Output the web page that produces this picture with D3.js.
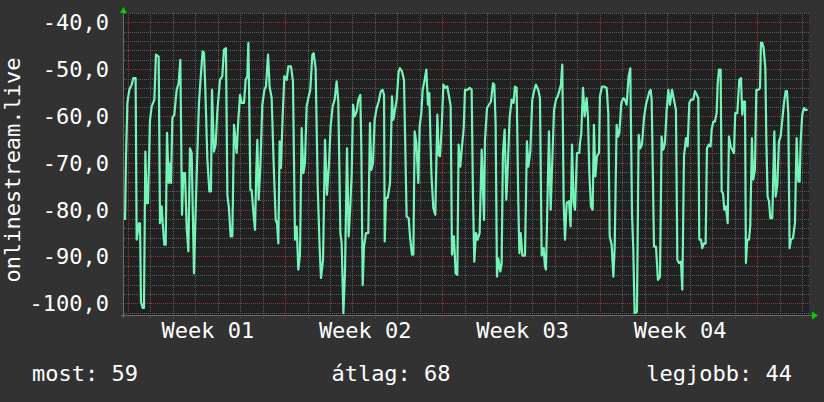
<!DOCTYPE html>
<html><head><meta charset="utf-8">
<script src="https://cdn.jsdelivr.net/npm/d3@7"></script>
<style>
html,body{margin:0;padding:0;background:#323232;}
svg{display:block;}
text{font-family:"DejaVu Sans Mono",monospace;fill:#ffffff;}
</style>
</head><body>
<svg id="chart" width="824" height="402"></svg>
<script>
// hours since start of graph
const hours = [
1.1,2.1,3.6,5.7,8.2,10.0,12.4,13.5,16.0,17.1,18.1,19.9,21.3,22.8,24.2,25.6,27.7,29.5,32.4,34.1,37.0,38.4,40.2,41.3,43.0,44.5,45.9,47.7,49.1,50.2,51.6,53.7,56.2,58.3,60.1,61.9,63.3,65.1,66.9,68.7,70.4,72.2,74.7,76.1,78.3,80.0,81.8,83.9,85.4,86.8,88.9,91.1,92.8,93.9,96.0,97.8,99.6,102.4,104.9,106.7,108.8,110.3,112.0,113.8,115.6,117.4,
120.2,122.0,123.8,125.6,128.1,129.8,131.6,132.7,133.8,134.8,136.2,138.0,139.8,141.2,142.3,143.7,145.5,147.6,149.8,151.5,153.7,155.4,157.6,159.7,161.9,163.3,164.7,166.1,167.5,169.3,171.1,173.6,175.4,178.2,180.3,182.5,184.3,186.0,187.8,189.6,191.4,193.1,194.9,196.7,198.8,201.0,202.4,204.5,206.7,208.8,210.2,212.4,214.5,216.6,218.8,220.5,222.7,224.8,226.9,228.7,230.9,232.3,234.1,235.8,238.0,239.7,
241.5,243.0,244.4,246.2,248.3,250.1,252.2,253.3,254.7,256.1,258.2,260.7,262.5,263.9,265.7,267.5,269.6,271.8,273.9,276.0,277.5,278.2,279.6,281.4,283.9,286.0,287.4,289.2,291.0,293.1,294.5,296.7,298.8,301.6,303.8,305.2,307.3,308.8,310.2,312.0,314.1,315.5,317.3,318.7,320.8,322.6,324.4,325.8,328.0,330.1,332.2,334.4,335.8,337.2,339.0,340.8,342.9,345.0,347.2,348.6,350.0,352.1,353.9,355.7,357.1,358.9,360.7,362.5,
363.9,366.7,368.9,371.0,372.4,373.8,375.6,377.4,379.5,381.7,384.2,385.2,387.4,389.5,391.6,393.8,395.2,396.6,398.0,399.4,401.6,403.0,404.4,406.2,408.0,409.4,411.5,413.7,415.8,417.2,419.0,420.8,421.9,423.3,425.1,427.9,430.0,431.5,433.6,435.7,437.9,439.6,442.1,443.9,445.7,447.8,449.2,450.3,451.7,453.5,455.3,457.1,458.9,461.0,462.8,464.5,466.3,467.7,469.2,470.6,472.4,474.9,476.6,478.1,479.8,481.3,483.4,485.9,
486.6,488.0,489.8,491.6,493.7,495.1,496.6,498.3,500.1,501.5,503.0,504.7,506.9,507.9,510.1,512.2,515.1,516.8,518.3,520.4,522.2,523.6,525.7,527.2,528.6,530.7,532.8,534.6,536.4,538.5,540.3,542.1,543.5,544.9,547.4,549.2,551.0,552.8,554.9,557.0,558.8,560.6,562.0,563.1,565.6,567.7,569.8,572.0,573.7,575.5,577.3,579.1,580.9,582.6,584.8,586.9,589.0,590.5,592.2,594.4,595.8,597.6,599.7,601.5,603.3,605.0,607.5,
609.3,611.4,612.9,613.9,615.7,617.1,618.9,620.7,622.1,624.2,626.0,627.1,628.9,630.6,632.4,633.5,634.9,636.7,637.8,639.2,640.6,642.4,644.2,645.6,647.4,649.1,650.9,652.3,654.5,656.6,658.4,659.8,661.2,662.7,663.7,665.1,666.9,668.3,670.1,671.5,673.3,674.8,676.9,678.7,679.7,681.2,682.6,684.4,685.4,686.8,688.3,689.7,691.8,694.0,695.4,697.2,698.9,700.7,702.5,704.3,706.1,707.5,708.9,710.3,711.7,713.9,716.0,717.8,719.6,721.0,722.1,723.8,725.6,727.4,729.5
];
const values = [
-82.2,-69.3,-57.2,-54.4,-53.3,-51.9,-51.9,-86.4,-82.9,-82.9,-99.6,-101.0,-101.0,-67.6,-78.6,-78.6,-61.0,-58.0,-56.5,-46.9,-47.3,-82.9,-79.3,-82.9,-87.5,-87.5,-63.6,-74.3,-70.1,-74.3,-60.4,-59.7,-54.4,-53.0,-48.0,-81.1,-72.2,-72.2,-83.9,-88.9,-66.9,-67.9,-93.6,-82.9,-67.9,-57.2,-51.9,-46.2,-46.5,-54.4,-69.0,-76.1,-76.1,-54.4,-67.6,-66.1,-59.0,-52.3,-51.5,-45.8,-45.5,-76.8,-79.7,-85.7,-85.7,-61.9,
-67.9,-60.8,-55.5,-57.2,-57.2,-52.3,-51.5,-44.4,-58.7,-75.8,-75.8,-80.4,-84.3,-71.5,-65.1,-77.9,-70.8,-57.6,-54.4,-53.7,-46.9,-53.7,-56.2,-70.1,-82.2,-82.9,-87.2,-65.4,-71.1,-60.1,-51.5,-52.3,-49.4,-49.4,-52.6,-86.4,-83.6,-92.8,-89.6,-62.6,-72.2,-70.1,-57.9,-56.2,-54.4,-46.9,-46.6,-49.8,-75.0,-88.2,-94.6,-90.7,-65.1,-76.8,-70.1,-62.2,-57.9,-56.5,-52.6,-56.9,-85.0,-87.2,-102.1,-93.6,-66.9,-85.7,
-79.3,-72.2,-57.6,-60.1,-59.0,-56.5,-55.5,-67.2,-96.1,-87.9,-85.0,-85.0,-61.5,-71.5,-70.1,-60.8,-58.3,-56.9,-54.8,-54.4,-55.5,-86.8,-77.5,-77.5,-74.3,-55.8,-60.8,-58.7,-56.5,-50.5,-49.8,-50.5,-52.3,-81.5,-81.8,-85.7,-89.6,-89.6,-63.3,-65.8,-74.3,-62.2,-59.4,-54.4,-52.3,-50.1,-57.6,-55.1,-72.2,-79.7,-81.1,-59.7,-68.3,-68.6,-62.6,-53.3,-54.0,-53.7,-56.2,-57.9,-89.6,-85.7,-93.6,-93.9,-66.1,-70.8,-66.5,-62.6,
-54.4,-54.4,-54.0,-54.4,-76.8,-91.1,-85.0,-86.4,-85.0,-67.2,-82.2,-65.1,-58.3,-57.6,-56.9,-53.0,-53.3,-61.9,-94.3,-90.4,-93.2,-91.5,-67.9,-62.9,-77.9,-71.5,-60.4,-56.5,-57.2,-53.7,-54.0,-78.6,-89.3,-85.0,-89.8,-89.8,-65.4,-70.8,-67.6,-56.5,-54.4,-53.3,-54.4,-56.2,-89.8,-88.2,-92.1,-92.8,-80.0,-63.3,-80.0,-69.3,-58.7,-56.5,-55.8,-54.7,-53.3,-49.0,-78.6,-86.4,-78.6,-78.2,-83.6,-66.1,-78.6,-80.0,-67.9,-67.9,
-65.8,-63.6,-54.0,-60.1,-56.2,-60.1,-72.2,-79.3,-80.0,-61.9,-72.9,-68.6,-67.9,-55.8,-53.7,-53.7,-54.0,-59.4,-85.7,-87.5,-94.3,-88.2,-61.9,-64.4,-63.6,-57.2,-56.2,-56.5,-57.6,-51.5,-49.8,-80.7,-88.6,-102.1,-101.8,-64.0,-66.9,-66.1,-60.4,-57.6,-56.2,-54.8,-54.4,-56.5,-87.9,-87.9,-95.0,-94.3,-64.4,-67.2,-65.8,-58.7,-54.4,-57.6,-54.4,-56.5,-58.7,-90.7,-91.4,-91.1,-97.1,-68.6,-64.7,-66.5,-57.2,-56.5,-56.5,
-54.7,-55.5,-56.2,-86.4,-86.4,-88.2,-87.2,-87.2,-66.9,-66.1,-66.5,-62.9,-61.2,-61.2,-59.4,-53.3,-50.1,-50.1,-76.1,-76.5,-80.0,-79.3,-82.9,-64.4,-66.5,-67.2,-67.9,-59.4,-59.4,-52.3,-51.9,-59.7,-56.9,-56.9,-91.4,-86.4,-86.4,-83.6,-64.7,-73.6,-71.5,-54.4,-54.4,-54.0,-44.4,-44.4,-45.5,-49.8,-64.4,-77.2,-78.2,-81.8,-81.8,-63.3,-77.2,-74.7,-65.4,-64.4,-60.8,-57.2,-54.7,-54.7,-59.4,-88.2,-86.4,-86.1,-82.9,-64.7,-74.0,-74.0,-65.4,-59.7,-58.3,-58.7,-58.7
];
const yTicks = [-100,-90,-80,-70,-60,-50,-40];
const weekLabels = ["Week 01","Week 02","Week 03","Week 04"];
const legendLabels = ["most","átlag","legjobb"];
const legendValues = [59,68,44];
const yTitle = "onlinestream.live";
const startTime = Date.UTC(2023,11,31,20,10);
const spanHours = 731;

const HOUR = 3600e3;
const svg = d3.select("#chart");
const L = 124, R = 809, T = 13, B = 315;
const x = d3.scaleUtc().domain([new Date(startTime), new Date(startTime + spanHours*HOUR)]).range([L, R]);
const y = d3.scaleLinear().domain([-102.5, -38]).range([B, T]);
const loc = d3.formatLocale({decimal: ",", thousands: " ", grouping: [3], currency: ["", ""], minus: "-"});
const fmt = loc.format(".1f");

svg.append("rect").attr("width", 824).attr("height", 402).attr("fill", "#323232");
svg.append("rect").attr("x", L).attr("y", T).attr("width", R - L).attr("height", B - T).attr("fill", "#212121");

const g = svg.append("g");
const minorY = d3.range(-102, -37, 2).filter(v => v % 10 !== 0);
g.selectAll(".hmin").data(minorY).join("line")
  .attr("x1", L).attr("x2", R + 1).attr("y1", d => Math.round(y(d)) + 0.5).attr("y2", d => Math.round(y(d)) + 0.5)
  .attr("stroke", "#5e5e5e").attr("stroke-dasharray", "1,1");
const days = d3.utcDay.range(x.domain()[0], x.domain()[1]);
g.selectAll(".vmin").data(days).join("line")
  .attr("x1", d => Math.round(x(d)) + 0.5).attr("x2", d => Math.round(x(d)) + 0.5).attr("y1", T).attr("y2", B + 3)
  .attr("stroke", "#5e5e5e").attr("stroke-dasharray", "1,1");
g.selectAll(".hmaj").data(yTicks).join("line")
  .attr("x1", L - 3).attr("x2", R + 1).attr("y1", d => Math.round(y(d)) + 0.5).attr("y2", d => Math.round(y(d)) + 0.5)
  .attr("stroke", "#9a3535").attr("stroke-dasharray", "1,1");
const mondays = d3.utcMonday.range(x.domain()[0], x.domain()[1]);
g.selectAll(".vmaj").data(mondays).join("line")
  .attr("x1", d => Math.round(x(d)) + 0.5).attr("x2", d => Math.round(x(d)) + 0.5).attr("y1", T).attr("y2", B + 4)
  .attr("stroke", "#9a3535").attr("stroke-dasharray", "1,1");

svg.append("line").attr("x1", L - 0.5).attr("x2", L - 0.5).attr("y1", 9).attr("y2", B + 3).attr("stroke", "#6a6a6a");
svg.append("line").attr("x1", L - 3).attr("x2", R + 4).attr("y1", B + 0.5).attr("y2", B + 0.5).attr("stroke", "#6a6a6a");
svg.append("path").attr("d", `M${L-4},13 L${L+3},13 L${L-0.5},7 Z`).attr("fill", "#00d000");
svg.append("path").attr("d", `M${R+3},${B-3.5} L${R+3},${B+4.5} L${R+9},${B+0.5} Z`).attr("fill", "#00d000");

const pts = hours.map((h, i) => ({t: new Date(startTime + h*HOUR), v: values[i]}));
const line = d3.line().x(d => x(d.t)).y(d => y(d.v));
svg.append("path").datum(pts).attr("d", line)
  .attr("fill", "none").attr("stroke", "#74f4b8").attr("stroke-width", 2.2).attr("stroke-linejoin", "round");

svg.selectAll(".yl").data(yTicks).join("text")
  .attr("x", 109).attr("y", d => y(d)).attr("dy", "0.36em").attr("text-anchor", "end")
  .attr("font-size", 22).text(d => fmt(d));

svg.selectAll(".wl").data(weekLabels).join("text")
  .attr("x", (d, i) => x(new Date(+mondays[i] + 3.5*24*HOUR)) + 1.5).attr("y", 338)
  .attr("text-anchor", "middle").attr("font-size", 22).text(d => d);

svg.append("text").attr("transform", "translate(20,170) rotate(-90)")
  .attr("text-anchor", "middle").attr("font-size", 22).text(yTitle);

const legX = [32, 391, 792];
const legA = ["start", "middle", "end"];
svg.selectAll(".lg").data(legendLabels).join("text")
  .attr("x", (d, i) => legX[i]).attr("y", 381).attr("text-anchor", (d, i) => legA[i])
  .attr("font-size", 22).text((d, i) => `${d}: ${legendValues[i]}`);
</script>
</body></html>
